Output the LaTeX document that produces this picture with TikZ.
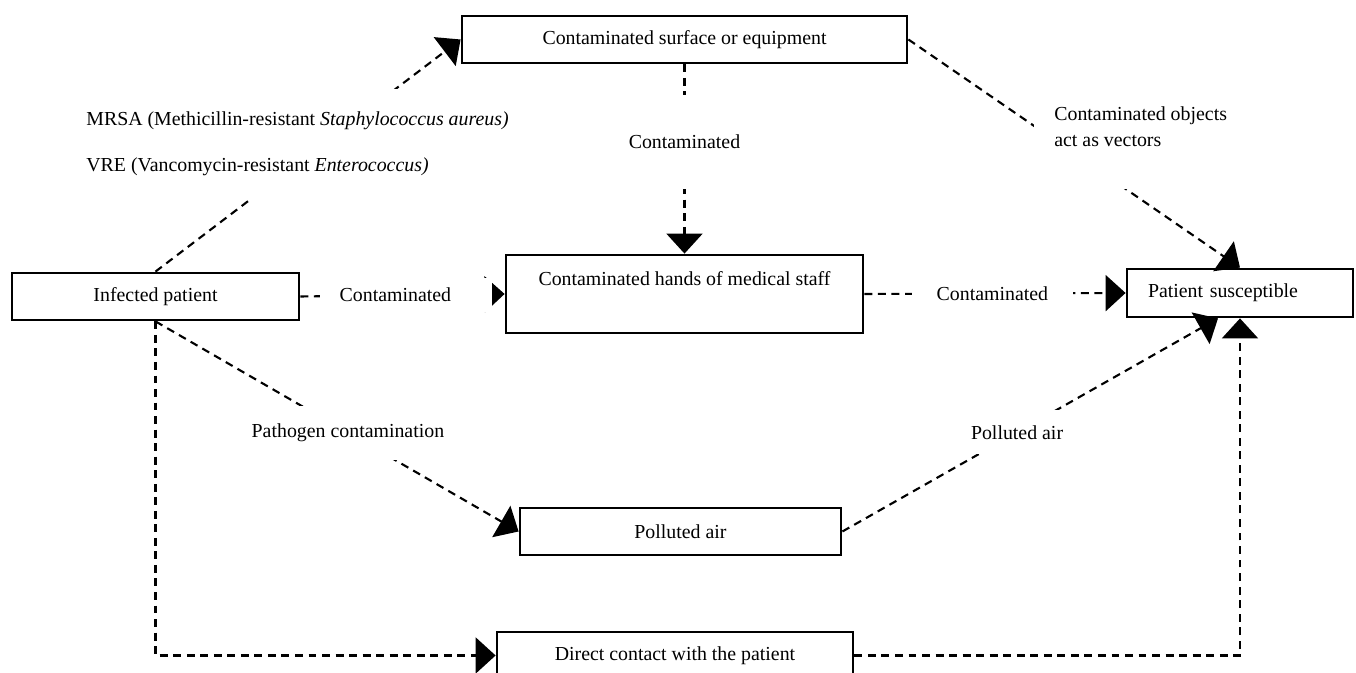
\documentclass[tikz,border=0pt]{standalone}
\usepackage{fontspec}
\setmainfont{Liberation Serif}
\usetikzlibrary{arrows.meta}
\tikzset{
  stagebox/.style={draw=black, line width=1.6pt, fill=white, align=center, inner sep=2pt, minimum height=9.4mm},
  link/.style={draw=black, line width=1.2pt, dash pattern=on 4.5pt off 3.2pt},
  flow/.style={link, -{Triangle[length=4mm, width=7.2mm]}},
  lbl/.style={fill=white, inner xsep=4.5mm, inner ysep=2mm}
}

\begin{document}
\begin{tikzpicture}[font=\fontsize{11.3}{13.6}\selectfont]
  \path[use as bounding box] (0,0) rectangle (27.12,13.46);
  \clip (0,0) rectangle (27.12,13.46);

  \node[stagebox, minimum width=89mm] (surf) at (13.69,12.67) {Contaminated surface or equipment};
  \node[stagebox, minimum width=57.4mm] (inf) at (3.11,7.53) {Infected patient};
  \node[stagebox, minimum width=71.4mm, minimum height=15.6mm, inner ysep=0pt, text height=6.1mm, text depth=9.5mm] (hands) at (13.69,7.58) {Contaminated hands of medical staff};
  \node[stagebox, minimum width=45.2mm, minimum height=9.6mm, text width=36.8mm, inner xsep=4.2mm, align=left] (pat) at (24.8,7.6) {Patient susceptible};
  \node[stagebox, minimum width=64.2mm] (pol) at (13.61,2.83) {Polluted air};
  \node[stagebox, minimum width=71.2mm] (direct) at (13.5,0.35) {Direct contact with the patient};

  \draw[flow] (inf.north) -- (surf.west);
  \draw[flow] (surf.south) -- node[lbl, pos=0.41, inner ysep=8mm] (c1) {Contaminated} (hands.north);
  \draw[flow] (surf.east) -- (pat.north);
  \draw[flow] (inf.east) -- node[lbl, pos=0.517, text width=26.5mm, inner xsep=4mm, align=left] (c2) {Contaminated} (hands.west);
  \draw[flow] (hands.east) -- node[lbl, pos=0.49, inner xsep=5mm] (c3) {Contaminated} (pat.west);
  \draw[flow] (inf.south) -- node[lbl, pos=0.53, inner ysep=3.6mm] (c4) {Pathogen contamination} (pol.west);
  \draw[flow] (pol.east) -- node[lbl, pos=0.465, inner ysep=3mm] (c5) {Polluted air} ([xshift=-4.4mm]pat.south);
  \draw[flow] (inf.south) |- (direct.west);
  \draw[flow] (direct.east) -| (pat.south);

  \node[lbl, anchor=west, align=left, inner xsep=1mm, inner ysep=4.6mm] (mrsa) at (1.62,10.58) {MRSA (Methicillin-resistant \textit{Staphylococcus aureus)}\\[4.4mm]VRE (Vancomycin-resistant \textit{Enterococcus)}};
  \node[lbl, anchor=west, align=left, inner xsep=4mm, inner ysep=8.6mm] (vec) at (20.68,10.93) {Contaminated objects\\[0.4mm]act as vectors};
\end{tikzpicture}
\end{document}
